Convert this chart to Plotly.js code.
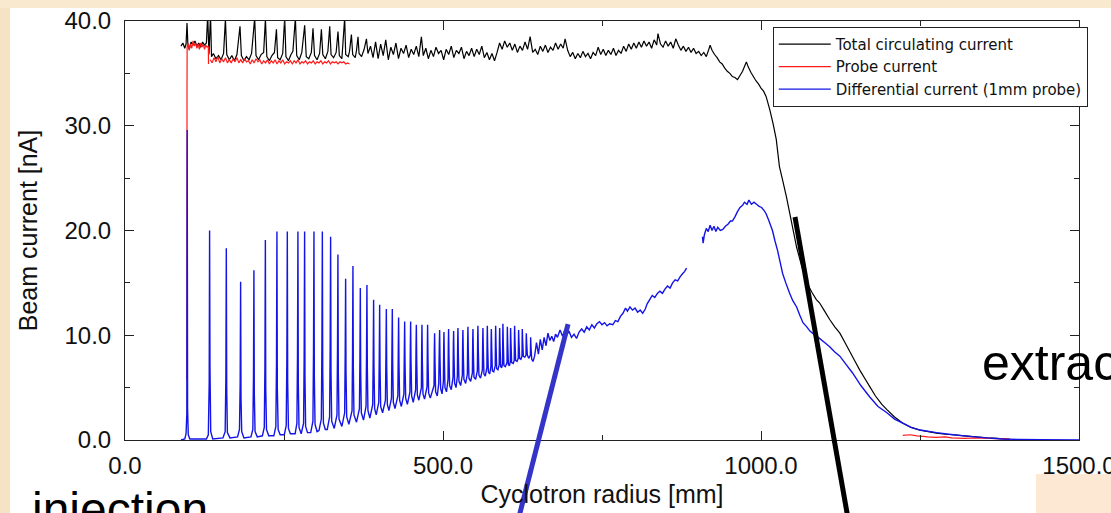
<!DOCTYPE html>
<html><head><meta charset="utf-8">
<script src="https://cdn.plot.ly/plotly-3.0.1.min.js"></script>
<style>html,body{margin:0;padding:0;background:#fff;overflow:hidden}#chart{width:1111px;height:513px}</style>
</head><body><div id="chart"></div>
<script>
// ---- data: radius [mm], current [nA] ----
const totalR = [88,91,94,96,97.5,99,101,104,107,110,113,116,119,122,125,128,130,132,134.5,136,139,143,147,151,155,157.9,160,164,168,172,176,180.8,183,187,191,195,199,203.9,206,210,214,218,220.8,223,227,231,235,238.1,240,244,248,251.1,253,257,261,264,267.9,270,274,278,282.5,285,289,293,295.6,298,302,306,308.8,311,315,319,321.9,324,328,332,334.9,337,341,345.4,347,351,353,356,358,362,364,366.4,368,372,376,379.6,382,386,390,394,398,402,406,410,414,418,422,426,430,434,438,442,446,450,454,458,462,466,469,473,477,481,485,489,493,497,501,505,509,513,517,521,525,529,533,537,541,545,549,553,557,561,565,569,573,577,581,585,589,593,597,601,605,609,613,617,621,625,629,633,637,641,645,649,653,657,661,665,669,673,677,681,685,689,692,696,700,704,708,712,716,720,724,728,732,736,740,744,748,752,756,760,764,768,772,776,780,784,788,792,796,800,804,808,812,816,820,824,828,832,836,838,842,846,850,854,858,862,866,870,874,878,882,886,890,894,898,902,906,910,914,918,920,923,927,931,935,939,943,947,951,955,959,963,967,971,975,977,980,984,988,992,996,1000,1004,1008,1014,1019,1024,1029,1034,1040,1045,1050,1056,1064,1072,1080,1087,1092,1100,1108,1116,1124,1132,1140,1148,1156,1164,1171,1180,1190,1198,1210,1223,1236,1250,1263,1276,1290,1302,1320,1338,1355,1372,1391];
const totalI = [37.6,37.9,37.4,37.8,39.8,37.6,37.3,38.0,37.7,38.1,37.6,37.9,37.5,38.0,37.7,37.9,40.6,36.8,40.6,36.6,36.9,36.4,36.7,36.3,36.9,40.2,36.8,36.3,36.7,36.2,36.8,39.5,36.7,36.2,36.6,36.3,36.9,40.3,36.7,36.3,36.8,37.0,40.2,36.6,36.2,36.7,37.0,39.2,36.5,36.3,36.9,40.4,36.6,36.2,36.8,37.1,40.3,36.7,36.3,37.0,39.6,36.6,36.4,37.0,39.3,36.7,36.3,36.9,39.2,36.8,36.4,37.1,39.5,36.8,36.5,37.0,39.0,36.7,36.4,40.3,36.8,36.6,37.1,38.7,36.8,36.5,37.2,38.5,36.9,36.6,37.3,38.3,36.9,37.6,36.5,38.0,36.4,37.8,36.7,38.2,36.3,37.5,36.8,37.9,36.4,37.4,36.9,37.7,36.5,37.3,36.8,37.6,36.6,38.5,36.7,37.4,36.4,37.2,36.6,37.5,36.9,37.2,36.3,37.3,36.8,37.6,36.5,37.2,36.9,37.5,36.4,37.1,36.7,37.4,36.6,37.3,36.8,37.6,36.5,37.0,36.3,36.9,36.2,37.0,37.9,37.3,38.1,37.5,37.9,37.2,37.8,37.0,37.6,37.2,38.0,37.3,38.5,37.0,37.3,36.8,37.6,37.1,37.7,37.0,37.5,37.2,37.9,37.3,37.8,37.4,38.3,37.2,36.6,37.0,36.4,36.9,36.5,37.1,36.6,36.9,36.4,37.0,36.7,37.5,36.8,37.3,36.7,37.2,36.8,37.4,36.7,37.2,36.9,37.6,37.1,37.8,37.3,37.9,37.4,38.0,37.5,38.1,37.6,38.0,37.4,38.2,37.7,38.8,37.8,37.5,38.1,37.6,38.0,37.4,38.3,37.7,37.2,37.6,37.1,37.5,37.0,37.4,36.9,37.1,36.7,37.0,36.6,37.3,37.7,37.2,36.8,36.5,36.1,35.9,35.5,35.2,35.0,34.7,34.6,34.4,34.8,35.2,35.8,36.1,35.6,35.1,34.7,34.3,34.0,33.6,33.3,32.8,31.5,30.2,28.7,26.1,24.8,23.2,21.7,20.2,18.4,16.6,15.0,14.1,13.4,13.1,12.3,11.5,10.8,10.2,9.3,8.4,7.5,6.6,5.8,5.1,4.2,3.4,2.9,2.2,1.6,1.2,0.95,0.8,0.65,0.55,0.5,0.4,0.3,0.2,0.15,0.05];

const probeR = [97.3,97.5,97.7,99,101,103,105,107,109,111,113,115,117,119,121,123,125,127,129,131,131.3,null,134,137,140,143,146,149,152,155,158,161,164,167,170,173,176,179,182,185,188,191,194,197,200,203,206,209,212,215,218,221,224,227,230,233,236,239,242,245,248,251,254,257,260,263,266,269,272,275,278,281,284,287,290,293,296,299,302,305,308,311,314,317,320,323,326,329,332,335,338,341,344,347,350,353,null,1223,1235,1245,1255,1262,1275,1290,1300,1320,1340,1360,1380,1391];
const probeI = [5.8,33.4,37.5,37.9,37.2,37.8,37.4,38.1,37.6,37.9,37.4,37.8,37.3,37.9,37.5,37.8,37.3,37.7,37.5,37.6,35.9,null,36.3,36.0,36.5,36.1,36.6,36.0,36.4,36.1,36.5,36.0,36.3,36.0,36.4,36.1,36.5,36.0,36.3,36.0,36.4,36.1,36.2,35.9,36.3,36.0,36.4,36.1,36.3,35.9,36.2,36.0,36.3,35.9,36.2,36.0,36.3,35.9,36.2,36.0,36.3,35.9,36.1,36.0,36.2,35.9,36.2,36.0,36.3,35.9,36.1,36.0,36.2,35.9,36.1,36.0,36.2,35.9,36.1,36.0,36.2,35.9,36.1,36.0,36.2,35.9,36.1,36.0,36.1,35.9,36.1,36.0,36.1,35.9,36.0,35.9,null,0.45,0.5,0.4,0.35,0.3,0.25,0.3,0.2,0.15,0.2,0.15,0.1,0.1];

const diffR = [88,94,96,97.2,97.8,98.4,99.5,102,
128,131,132.4,133.0,133.6,134.8,138,
154,157.5,158.6,159.3,159.9,161,165,
177,180,181.1,181.8,182.4,183.5,187,
198,201,202,202.7,203.3,204.5,208,
216,219,220,220.7,221.3,222.5,226,
234,237.2,238.2,238.9,239.5,240.8,244,
250.5,253.5,254.5,255.2,255.8,257,260,
267.5,270.3,271.2,271.9,272.5,273.6,277,
280.8,281.7,282.4,283,284,287,
292,295.5,296.4,297.1,297.7,298.8,302,
305,308.7,309.6,310.3,310.9,312,315,
318,321.7,322.6,323.3,323.9,325,329,
333.3,334.1,334.8,335.4,336.5,341,
345.4,346.2,346.9,347.5,348.6,352,
357,357.8,358.4,359,360,364,
368.6,369.4,370,370.6,371.6,375,
379,379.8,380.4,381,382,385,
389.5,390.3,390.9,391.5,392.5,395,
399,399.8,400.4,401,402,405,
409.5,410.3,410.9,411.5,412.5,415,
419,419.7,420.3,420.9,421.9,424.5,
429,429.7,430.2,430.8,431.8,434.5,
438.5,439.2,439.7,440.3,441.3,444,
448,448.6,449.1,449.7,450.7,453.2,
457,457.6,458.1,458.7,459.7,462,
466,466.5,466.9,467.5,468.5,471,
474.9,475.4,475.8,476.4,477.4,480,
485.9,486.4,486.8,487.4,488.4,491,
493.3,494.2,494.7,495.3,496.3,498.5,
500.6,501.1,501.5,502.1,503.1,505.5,
507.9,508.4,508.8,509.4,510.4,513,
515.8,516.3,516.7,517.3,518.3,520.5,
522.6,523.1,523.5,524.1,525.1,527.8,
530.4,530.9,531.3,531.9,532.9,535.6,
538.3,538.8,539.2,539.8,540.8,543.5,
546.2,546.7,547.1,547.7,548.7,551.3,
554,554.5,554.9,555.5,556.5,559,
561.9,562.4,562.8,563.4,564.4,566.5,
569,569.4,569.7,570.3,571.3,573.3,
575.3,575.7,576,576.6,577.6,579.8,
582.1,582.5,582.8,583.4,584.4,586.4,
588.4,588.8,589.1,589.7,590.7,592.4,
593.6,594,594.2,594.8,595.8,598,
600.6,601,601.2,601.8,602.8,604.5,
605.8,606.1,606.3,606.9,607.9,610.5,
612,612.4,612.6,613.2,614.2,616.4,
618.3,618.7,618.9,619.5,620.5,622.5,
624.2,624.5,624.7,625.3,626.3,628.5,
630.5,630.8,631,631.6,632.6,634.8,
637.4,637.7,637.8,638.4,639.5,641.5,
644,647,650,653,656,659,662,665,668,671,674,677,680,684,688,691,694.5,698,702,706,710,714,718,722,726,730,734,738,742,746,750,754,758,762,767,771,775,779,783,787,790,794,798,802,806,810,814,818,821,825,829,833,837,841,845,849,853,857,861,865,869,873,877,880,883,
895,
908,909,911,914,917,920,923,926,929,932,936,940,944,948,952,955,959,963,967,971,974,978,981,985,989,993,997,1001,1005,1008,1012,1015,1018,1022,1026,1030,1034,1039,1045,1050,1056,1061,1066,1072,1077,1081,1086,1092,1100,1108,1116,1124,1134,1144,1157,1171,1184,1198,1210,1223,1236,1250,1276,1302,1328,1355,1380,1407,1440,1500];
const diffI = [0,0.1,0.6,2.5,29.6,3,0.5,0.1,
0.1,0.5,5.5,20.0,7,0.8,0.1,
0.2,0.8,6,18.3,5,0.7,0.2,
0.3,1,5.5,15.1,4,0.8,0.2,
0.3,1,6,16.2,4.5,0.8,0.3,
0.4,1.2,7,19.1,5,1,0.4,
0.4,1.3,7.5,19.9,5,1,0.5,
0.5,1.4,7.8,19.9,5.5,1.1,0.6,
0.6,1.6,8,19.9,5.5,1.2,0.6,
1.6,8,19.9,6,1.3,0.7,
0.7,1.8,8.5,19.9,6,1.5,0.8,
0.9,2,9,19.9,6.5,1.6,1.0,
1.0,2.2,9,19.4,6.5,1.8,1.1,
2.4,8.5,17.7,6.5,2,1.3,
2.6,8,15.4,6.5,2.2,1.5,
2.8,8.5,16.6,7,2.4,1.7,
3,8,14.5,6.5,2.6,1.9,
3.2,8.5,14.8,7,2.8,2.1,
3.4,8,13.4,7,3,2.4,
3.6,8,12.9,7,3.2,2.6,
3.8,8.2,12.5,7,3.4,2.8,
4,8.5,12.5,7.2,3.6,3.0,
4.2,8.5,11.7,7.2,3.8,3.2,
4.4,8.5,11.3,7.3,4,3.4,
4.6,8.7,11.3,7.5,4.2,3.6,
4.8,8.8,11.0,7.5,4.3,3.8,
5,8.8,11.0,7.6,4.4,3.9,
5.1,9,11.0,7.7,4.5,4.0,
5.2,8.8,10.2,7.5,4.6,4.2,
5.4,9,10.5,7.8,4.9,4.4,
5.6,9,10.3,7.8,5.0,4.6,
5.8,9.2,10.6,8,5.2,4.8,
6,9.2,10.4,8,5.4,5.0,
6.1,9.4,10.7,8.2,5.6,5.2,
6.2,9.3,10.5,8.2,5.8,5.4,
6.3,9.5,10.8,8.4,5.9,5.6,
6.4,9.4,10.6,8.4,6.0,5.8,
6.6,9.6,10.9,8.6,6.2,5.9,
6.7,9.5,10.7,8.6,6.3,6.1,
6.9,9.7,10.9,8.8,6.5,6.3,
7,9.6,10.6,8.8,6.6,6.5,
7.1,9.8,10.9,9,6.8,6.7,
7.2,9.7,10.7,9,7,6.9,
7.3,10,11.1,9.2,7.1,7.0,
7.4,9.9,10.8,9.2,7.2,7.1,
7.5,9.9,10.7,9.3,7.4,7.3,
7.6,10,10.9,9.4,7.6,7.5,
7.8,9.8,10.5,9.3,7.8,7.7,
8,9.9,10.6,9.4,8,7.9,
8.1,9.6,10.2,9.2,8.1,7.8,
8.1,9.3,9.8,8.8,7.7,7.5,
8.0,9.3,8.2,9.6,8.6,9.8,9.0,10.2,9.5,9.9,9.4,10.1,9.8,10.5,9.9,10.4,10.0,10.4,9.8,10.1,9.7,10.3,10.6,10.3,10.8,10.5,11.0,10.7,11.1,11.3,11.0,11.2,10.9,11.1,11.0,11.4,11.3,11.8,12.1,12.6,12.3,12.7,12.4,12.6,12.2,12.4,12.1,12.5,13.0,13.4,13.8,13.6,14.0,14.2,14.0,14.4,14.7,14.5,15.0,15.3,15.2,15.6,15.9,16.1,16.4,
null,
19.4,18.8,19.6,20.2,19.9,20.5,20.0,20.4,19.9,20.3,20.0,20.1,20.4,20.6,20.9,20.9,21.3,21.8,22.2,22.4,22.7,22.5,22.9,22.5,22.7,22.5,22.3,22.2,21.9,21.6,21.0,20.5,20.0,19.0,18.1,17.0,15.9,15.0,14.0,13.3,12.7,11.9,11.2,10.8,10.4,10.2,10.0,9.7,9.3,8.9,8.4,8.0,7.2,6.4,5.2,4.1,3.2,2.6,2.0,1.6,1.2,0.95,0.7,0.5,0.35,0.2,0.1,0.05,0.02,0.0];

const seriesNames = ['Total circulating current','Probe current','Differential current (1mm probe)'];
const seriesColors = ['#000000','#ff1a1a','#1414e6'];
const seriesWidths = [1.2, 1.2, 1.4];
const xTickVals = [0,500,1000,1500];
const xTickText = ['0.0','500.0','1000.0','1500.0'];
const xMinorVals = [250,750,1250];
const yTickVals = [0,10,20,30,40];
const yTickText = ['0.0','10.0','20.0','30.0','40.0'];
const yMinorVals = [5,15,25,35];
const xTitle = 'Cyclotron radius [mm]';
const yTitle = 'Beam current [nA]';
const labelInjection = 'injection';
const labelExtraction = 'extrac';

// ---- figure ----
const FONT = 'Liberation Sans, Arial, Helvetica, sans-serif';
const mk = (x, y, i) => ({
  x: x, y: y, type: 'scatter', mode: 'lines', name: seriesNames[i],
  line: {color: seriesColors[i], width: seriesWidths[i], simplify: false},
  connectgaps: false, hoverinfo: 'skip'
});
const traces = [mk(totalR, totalI, 0), mk(probeR, probeI, 1), mk(diffR, diffI, 2)];

const axisCommon = {
  showgrid: false, zeroline: false, showline: true, linecolor: '#222', linewidth: 1,
  mirror: 'ticks', ticks: 'inside', ticklen: 9, tickwidth: 1, tickcolor: '#222',
  tickfont: {family: FONT, size: 24, color: '#111'}, fixedrange: true,
  ticklabeloverflow: 'allow'
};

const layout = {
  width: 1111, height: 513,
  margin: {l: 125, r: 32, t: 21, b: 73, pad: 0},
  paper_bgcolor: '#ffffff', plot_bgcolor: '#ffffff',
  showlegend: true,
  legend: {
    x: 0.679, y: 0.986, xanchor: 'left', yanchor: 'top',
    bgcolor: '#ffffff', bordercolor: '#222', borderwidth: 1,
    font: {family: 'DejaVu Sans, Liberation Sans, sans-serif', size: 15, color: '#111'},
    itemwidth: 52, tracegroupgap: 0
  },
  xaxis: Object.assign({}, axisCommon, {
    range: [0, 1500], tickmode: 'array', tickvals: xTickVals, ticktext: xTickText,
    ticklabelstandoff: 4,
    minor: {tickmode: 'array', tickvals: xMinorVals, ticks: 'inside', ticklen: 5, tickcolor: '#222'},
    title: {text: xTitle, font: {family: FONT, size: 25, color: '#111'}, standoff: 7},
    automargin: false
  }),
  yaxis: Object.assign({}, axisCommon, {
    range: [0, 40], tickmode: 'array', tickvals: yTickVals, ticktext: yTickText,
    ticklabelstandoff: 8,
    minor: {tickmode: 'array', tickvals: yMinorVals, ticks: 'inside', ticklen: 5, tickcolor: '#222'},
    title: {text: yTitle, font: {family: FONT, size: 25, color: '#111'}, standoff: 19},
    automargin: false
  }),
  shapes: [
    {type: 'rect', xref: 'paper', yref: 'paper', x0: -0.14, x1: -0.1205, y0: -0.2, y1: 1.06, fillcolor: '#f5e3c4', line: {width: 0}, layer: 'below'},
    {type: 'rect', xref: 'paper', yref: 'paper', x0: -0.14, x1: 1.05, y0: 1.031, y1: 1.06, fillcolor: '#f8e9cf', line: {width: 0}, layer: 'below'},
    {type: 'rect', xref: 'paper', yref: 'paper', x0: 0.955, x1: 1.05, y0: -0.2, y1: -0.0811, fillcolor: '#fde9d3', line: {width: 0}, layer: 'above'},
    {type: 'line', xref: 'paper', yref: 'paper', x0: 0.4644, y0: 0.2768, x1: 0.4095, y1: -0.2148, line: {color: '#3434c8', width: 5}, layer: 'above'},
    {type: 'line', xref: 'paper', yref: 'paper', x0: 0.7023, y0: 0.5322, x1: 0.7600, y1: -0.2148, line: {color: '#000000', width: 5}, layer: 'above'}
  ],
  annotations: [
    {text: labelInjection, xref: 'paper', yref: 'paper', x: -0.1, y: -0.167, xanchor: 'left', yanchor: 'middle', showarrow: false, font: {family: FONT, size: 48, color: '#000'}},
    {text: labelExtraction, xref: 'paper', yref: 'paper', x: 0.896, y: 0.184, xanchor: 'left', yanchor: 'middle', showarrow: false, font: {family: FONT, size: 50, color: '#000'}}
  ]
};

Plotly.newPlot('chart', traces, layout, {staticPlot: true, displayModeBar: false});
</script>
</body></html>
